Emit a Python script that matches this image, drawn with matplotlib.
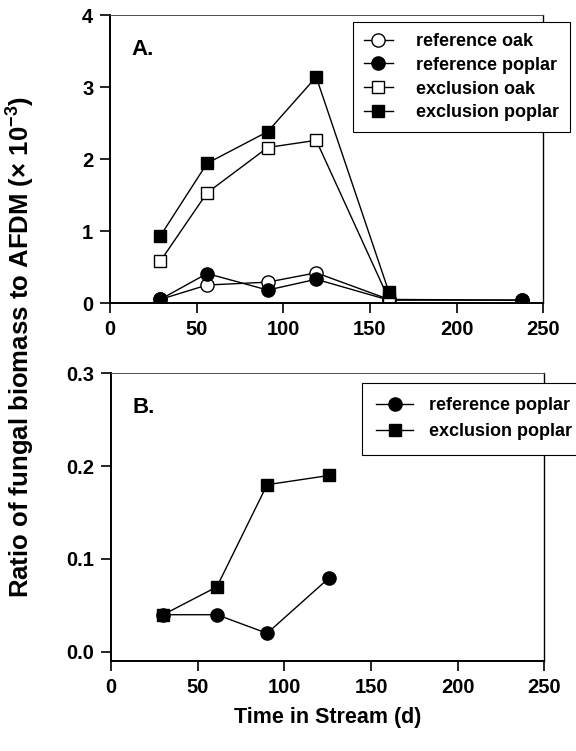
import matplotlib
matplotlib.use("Agg")
import matplotlib.pyplot as plt

plt.rcParams['font.family'] = ['Liberation Sans', 'DejaVu Sans']
plt.rcParams['font.weight'] = 'bold'
plt.rcParams['mathtext.fontset'] = 'custom'
plt.rcParams['mathtext.rm'] = 'Liberation Sans:bold'
plt.rcParams['mathtext.default'] = 'regular'

# panel A data (ratio x 10^-3)
days_ref = [29, 56, 91, 119, 161, 238]
ref_oak = [0.05, 0.25, 0.29, 0.42, 0.05, 0.04]
ref_poplar = [0.05, 0.41, 0.18, 0.33, 0.04, 0.04]
days_exc = [29, 56, 91, 119, 161]
exc_oak = [0.58, 1.53, 2.16, 2.26, 0.05]
exc_poplar = [0.93, 1.94, 2.38, 3.14, 0.15]

# panel B data
days_b = [30, 61, 90, 126]
ref_poplar_b = [0.04, 0.04, 0.02, 0.08]
exc_poplar_b = [0.04, 0.07, 0.18, 0.19]

fig = plt.figure(figsize=(5.76, 7.51), dpi=100)
axA = fig.add_axes([0.191, 0.5965, 0.752, 0.3835])
axB = fig.add_axes([0.193, 0.120, 0.752, 0.383])

ms = 9.5
lw = 1.0

axA.plot(days_ref, ref_oak, '-o', color='k', mfc='white', mec='k', ms=ms, lw=lw, label='reference oak')
axA.plot(days_ref, ref_poplar, '-o', color='k', mfc='k', ms=ms, lw=lw, label='reference poplar')
axA.plot(days_exc, exc_oak, '-s', color='k', mfc='white', mec='k', ms=ms - 0.5, lw=lw, label='exclusion oak')
axA.plot(days_exc, exc_poplar, '-s', color='k', mfc='k', ms=ms - 0.5, lw=lw, label='exclusion poplar')
axA.set_ylim(0, 4)
axA.set_yticks([0, 1, 2, 3, 4])

axB.plot(days_b, ref_poplar_b, '-o', color='k', mfc='k', ms=ms, lw=lw, label='reference poplar')
axB.plot(days_b, exc_poplar_b, '-s', color='k', mfc='k', ms=ms - 0.5, lw=lw, label='exclusion poplar')
axB.set_ylim(-0.0097, 0.3)
axB.set_yticks([0.0, 0.1, 0.2, 0.3])
axB.set_yticklabels(['0.0', '0.1', '0.2', '0.3'])

for ax in (axA, axB):
    ax.set_xlim(0, 250)
    ax.set_xticks([0, 50, 100, 150, 200, 250])
    ax.tick_params(direction='out', length=7, width=1.2, labelsize=14.5, pad=5)
    for lab in ax.get_xticklabels() + ax.get_yticklabels():
        lab.set_fontweight('bold')
    ax.spines['left'].set_linewidth(1.4)
    ax.spines['bottom'].set_linewidth(1.4)
    ax.spines['top'].set_linewidth(0.7)
    ax.spines['right'].set_linewidth(1.0)
    ax.spines['top'].set_color('0.3')

axA.text(0.05, 0.88, 'A.', transform=axA.transAxes, fontsize=16, fontweight='bold', va='center')
axB.text(0.05, 0.88, 'B.', transform=axB.transAxes, fontsize=16, fontweight='bold', va='center')

legA = axA.legend(loc='upper left', bbox_to_anchor=(353 / 576, 1 - 22 / 751),
                  bbox_transform=fig.transFigure, fontsize=13, frameon=True,
                  fancybox=False, edgecolor='k', framealpha=1, handlelength=1.6,
                  handletextpad=1.3, borderpad=0.6, labelspacing=0.38, borderaxespad=0)
legA.get_frame().set_linewidth(0.8)
legB = axB.legend(loc='upper left', bbox_to_anchor=(362 / 576, 1 - 383 / 751),
                  bbox_transform=fig.transFigure, fontsize=13, frameon=True,
                  fancybox=False, edgecolor='k', framealpha=1, handlelength=2.0,
                  handletextpad=0.9, borderpad=0.8, labelspacing=0.5, borderaxespad=0)
legB.get_frame().set_linewidth(0.8)
for leg in (legA, legB):
    for t in leg.get_texts():
        t.set_fontweight('bold')

fig.text(328 / 576, 1 - 718 / 751, 'Time in Stream (d)', ha='center', va='center',
         fontsize=15.5, fontweight='bold')
fig.text(21 / 576, 1 - 347 / 751, r'Ratio of fungal biomass to AFDM ($\times$ 10$^{-3}$)',
         rotation=90, ha='center', va='center', fontsize=18.5, fontweight='bold')

fig.savefig('out.png', dpi=100)
